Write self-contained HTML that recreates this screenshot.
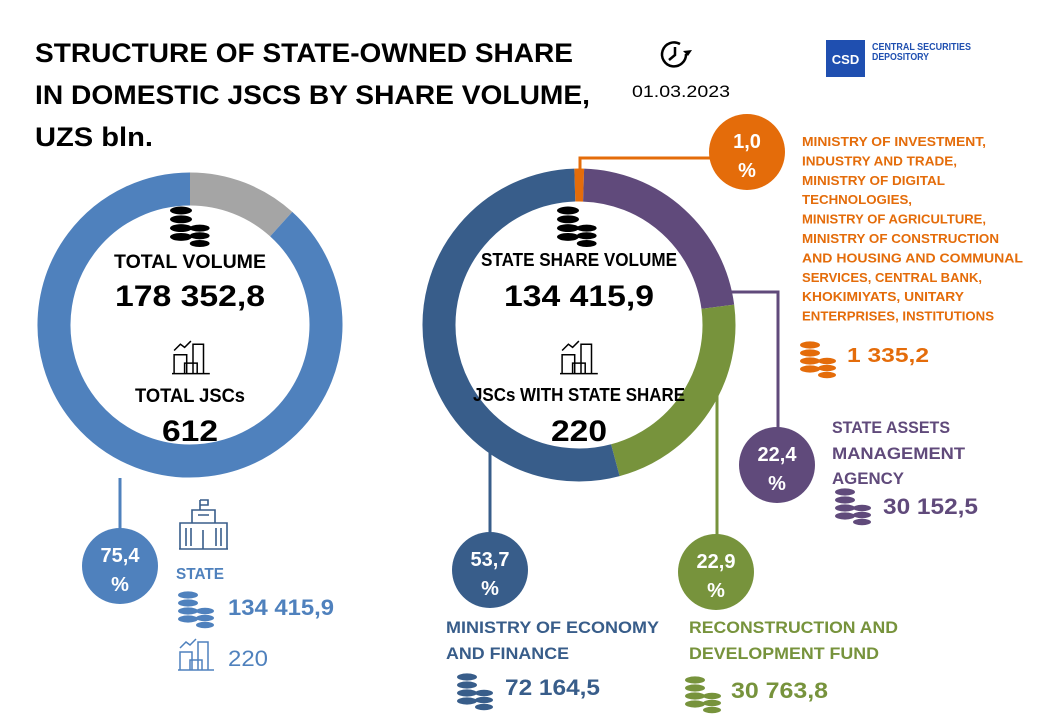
<!DOCTYPE html>
<html><head><meta charset="utf-8"><style>
html,body{margin:0;padding:0;background:#fff}
svg{display:block}
text{font-family:"Liberation Sans",sans-serif}
</style></head><body>
<svg id="chart" width="1040" height="720" viewBox="0 0 1040 720">
<g font-weight="bold" font-size="27" fill="#000">
<text x="35" y="62" textLength="538" lengthAdjust="spacingAndGlyphs">STRUCTURE OF STATE-OWNED SHARE</text>
<text x="35" y="104" textLength="555" lengthAdjust="spacingAndGlyphs">IN DOMESTIC JSCS BY SHARE VOLUME,</text>
<text x="35" y="146" textLength="118" lengthAdjust="spacingAndGlyphs">UZS bln.</text>
</g>
<g fill="none" stroke="#000" stroke-width="2.5">
<path d="M686 54 A12 12 0 1 1 680 44"/><path d="M675 47 L675 55 L669 60"/><path d="M683 51 L688 56 L692 50" fill="#000" stroke="none"/>
</g>
<text x="632" y="97" font-size="17" fill="#000" textLength="98" lengthAdjust="spacingAndGlyphs">01.03.2023</text>
<g>
<rect x="826" y="40" width="39" height="37" fill="#1F4FB0"/>
<text x="845.5" y="64" text-anchor="middle" font-size="13" font-weight="bold" fill="#fff">CSD</text>
<text x="872" y="50" font-size="10" font-weight="bold" fill="#1F4FB0" textLength="99" lengthAdjust="spacingAndGlyphs">CENTRAL SECURITIES</text>
<text x="872" y="60" font-size="10" font-weight="bold" fill="#1F4FB0" textLength="57" lengthAdjust="spacingAndGlyphs">DEPOSITORY</text>
</g>
<g id="leftDonut"></g>
<g id="rightDonut"></g>
<g id="lines" fill="none" stroke-width="3">
<path d="M120 478 L120 530" stroke="#4F81BD"/>
<path d="M490 440 L490 533" stroke="#385D8A"/>
<path d="M717 388 L717 535" stroke="#77933C"/>
<path d="M728 292 L778 292 L778 430" stroke="#604A7B"/>
<path d="M580 172 L580 158 L712 158" stroke="#E46C0A"/>
</g>
<g id="icons"></g>
<g text-anchor="middle" font-weight="bold" fill="#000">
<text x="190" y="268" font-size="19" textLength="152" lengthAdjust="spacingAndGlyphs">TOTAL VOLUME</text>
<text x="190" y="306" font-size="30" textLength="150" lengthAdjust="spacingAndGlyphs">178 352,8</text>
<text x="190" y="402" font-size="19" textLength="110" lengthAdjust="spacingAndGlyphs">TOTAL JSCs</text>
<text x="190" y="441" font-size="30" textLength="56" lengthAdjust="spacingAndGlyphs">612</text>
</g>
<g text-anchor="middle" font-weight="bold" fill="#000">
<text x="579" y="266" font-size="18" textLength="196" lengthAdjust="spacingAndGlyphs">STATE SHARE VOLUME</text>
<text x="579" y="306" font-size="30" textLength="150" lengthAdjust="spacingAndGlyphs">134 415,9</text>
<text x="579" y="401" font-size="18" textLength="212" lengthAdjust="spacingAndGlyphs">JSCs WITH STATE SHARE</text>
<text x="579" y="441" font-size="30" textLength="56" lengthAdjust="spacingAndGlyphs">220</text>
</g>
<g id="badges"></g>
<g font-size="13" font-weight="bold" fill="#E46C0A" id="orangeText"></g>
<text x="847" y="362" font-size="20" font-weight="bold" fill="#E46C0A" textLength="82" lengthAdjust="spacingAndGlyphs">1 335,2</text>
<g font-size="17" font-weight="bold" fill="#604A7B">
<text x="832" y="433" textLength="118" lengthAdjust="spacingAndGlyphs">STATE ASSETS</text>
<text x="832" y="459" textLength="133" lengthAdjust="spacingAndGlyphs">MANAGEMENT</text>
<text x="832" y="484" textLength="72" lengthAdjust="spacingAndGlyphs">AGENCY</text>
<text x="883" y="514" font-size="22" textLength="95" lengthAdjust="spacingAndGlyphs">30 152,5</text>
</g>
<g font-size="17" font-weight="bold" fill="#385D8A">
<text x="446" y="633" textLength="213" lengthAdjust="spacingAndGlyphs">MINISTRY OF ECONOMY</text>
<text x="446" y="659" textLength="123" lengthAdjust="spacingAndGlyphs">AND FINANCE</text>
<text x="505" y="695" font-size="22" textLength="95" lengthAdjust="spacingAndGlyphs">72 164,5</text>
</g>
<g font-size="17" font-weight="bold" fill="#77933C">
<text x="689" y="633" textLength="209" lengthAdjust="spacingAndGlyphs">RECONSTRUCTION AND</text>
<text x="689" y="659" textLength="190" lengthAdjust="spacingAndGlyphs">DEVELOPMENT FUND</text>
<text x="731" y="698" font-size="22" textLength="97" lengthAdjust="spacingAndGlyphs">30 763,8</text>
</g>
<g fill="#4F81BD">
<text x="176" y="579" font-size="16" font-weight="bold" textLength="48" lengthAdjust="spacingAndGlyphs">STATE</text>
<text x="228" y="615" font-size="22" font-weight="bold" textLength="106" lengthAdjust="spacingAndGlyphs">134 415,9</text>
<text x="228" y="666" font-size="22" textLength="40" lengthAdjust="spacingAndGlyphs">220</text>
</g>
</svg>
<script>
const leftCategories = ["State", "Other"];
const leftValues = [88.3, 11.7];
const leftColors = ["#4F81BD", "#A5A5A5"];
const rightCategories = ["Ministries and others", "State Assets Management Agency", "Reconstruction and Development Fund", "Ministry of Economy and Finance"];
const rightValues = [1.0, 22.4, 22.9, 53.7];
const rightColors = ["#E46C0A", "#604A7B", "#77933C", "#385D8A"];
const badgeLabels = ["75,4", "53,7", "22,9", "22,4", "1,0"];

const NS = "http://www.w3.org/2000/svg";
function mk(tag, attrs, parent) {
  const e = document.createElementNS(NS, tag);
  for (const k in attrs) e.setAttribute(k, attrs[k]);
  parent.appendChild(e);
  return e;
}
function angleScale(v, total) { return v / total * 2 * Math.PI; }
function arc(cx, cy, r, a0, a1) {
  const x0 = cx + r * Math.sin(a0), y0 = cy - r * Math.cos(a0);
  const x1 = cx + r * Math.sin(a1), y1 = cy - r * Math.cos(a1);
  const large = (a1 - a0) > Math.PI ? 1 : 0;
  return `M${x0} ${y0} A${r} ${r} 0 ${large} 1 ${x1} ${y1}`;
}
function donut(g, cats, vals, cols, cx, cy, r, w, start) {
  const total = vals.reduce((a, b) => a + b, 0);
  let a = start;
  vals.forEach((v, i) => {
    const a1 = a + angleScale(v, total);
    const p = mk("path", {d: arc(cx, cy, r, a, a1), fill: "none", stroke: cols[i], "stroke-width": w}, g);
    
    
    a = a1;
  });
}
donut(document.getElementById("leftDonut"), leftCategories, [leftValues[1], leftValues[0]], [leftColors[1], leftColors[0]], 190, 325, 136, 33, 0);
donut(document.getElementById("rightDonut"), rightCategories, rightValues, rightColors, 579, 325, 140, 33, -0.03);

const icons = document.getElementById("icons");
function coins(x, y, s, color) {
  const g = mk("g", {fill: color}, icons);
  
  
  for (let i = 0; i < 4; i++) mk("ellipse", {cx: x + 10 * s, cy: y + (5 + i * 8) * s, rx: 10 * s, ry: 3.6 * s}, g);
  for (let i = 0; i < 3; i++) mk("ellipse", {cx: x + 27 * s, cy: y + (21 + i * 7) * s, rx: 9 * s, ry: 3.2 * s}, g);
}
function city(x, y, s, color) {
  const g = mk("g", {fill: "none", stroke: color, "stroke-width": 1.5}, icons);
  
  
  mk("path", {d: `M${x} ${y+32*s} L${x+36*s} ${y+32*s} M${x+2*s} ${y+32*s} V${y+14*s} H${x+14*s} V${y+32*s} M${x+20*s} ${y+32*s} V${y+4*s} H${x+30*s} V${y+32*s} M${x+12*s} ${y+32*s} V${y+22*s} H${x+24*s} V${y+32*s} M${x+2*s} ${y+10*s} L${x+8*s} ${y+4*s} L${x+12*s} ${y+7*s} L${x+18*s} ${y+1*s}`}, g);
}
coins(170, 205, 1.1, "#000");
coins(557, 205, 1.1, "#000");
city(172, 340, 1.05, "#000");
city(560, 340, 1.05, "#000");
coins(800, 340, 1, "#E46C0A");
coins(835, 487, 1, "#604A7B");
coins(457, 672, 1, "#385D8A");
coins(685, 675, 1, "#77933C");
coins(178, 590, 1, "#4F81BD");
city(178, 638, 1, "#4F81BD");
const sb = mk("g", {fill: "none", stroke: "#385D8A", "stroke-width": 1.6}, icons);


mk("path", {d: "M179 549 H228 M180 549 V523 H227 V549 M192 523 V510 H215 V523 M200 510 V500 M200 500 H208 V505 H200 M186 528 V546 M191 528 V546 M216 528 V546 M221 528 V546 M203 530 V549 M198 515 H209"}, sb);

const badges = document.getElementById("badges");
const badgePos = [[120, 566, "#4F81BD"], [490, 570, "#385D8A"], [716, 572, "#77933C"], [777, 465, "#604A7B"], [747, 152, "#E46C0A"]];
badgeLabels.forEach((lab, i) => {
  const [x, y, c] = badgePos[i];
  const g = mk("g", {}, badges);
  
  
  mk("circle", {cx: x, cy: y, r: 38, fill: c}, g);
  const t1 = mk("text", {x: x, y: y - 4, "text-anchor": "middle", "font-size": 20, "font-weight": "bold", fill: "#fff"}, g);
  t1.textContent = lab;
  const t2 = mk("text", {x: x, y: y + 25, "text-anchor": "middle", "font-size": 20, "font-weight": "bold", fill: "#fff"}, g);
  t2.textContent = "%";
});

const orangeLines = ["MINISTRY OF INVESTMENT,", "INDUSTRY AND TRADE,", "MINISTRY OF DIGITAL", "TECHNOLOGIES,", "MINISTRY OF AGRICULTURE,", "MINISTRY OF CONSTRUCTION", "AND HOUSING AND COMMUNAL", "SERVICES,  CENTRAL BANK,", "KHOKIMIYATS,  UNITARY", "ENTERPRISES, INSTITUTIONS"];
const orangeWidths = [184, 155, 143, 110, 184, 197, 221, 180, 162, 192];
const og = document.getElementById("orangeText");
orangeLines.forEach((l, i) => {
  const t = mk("text", {x: 802, y: 146 + i * 19.4, textLength: orangeWidths[i], lengthAdjust: "spacingAndGlyphs"}, og);
  
  
  t.textContent = l;
});
</script>
</body></html>
